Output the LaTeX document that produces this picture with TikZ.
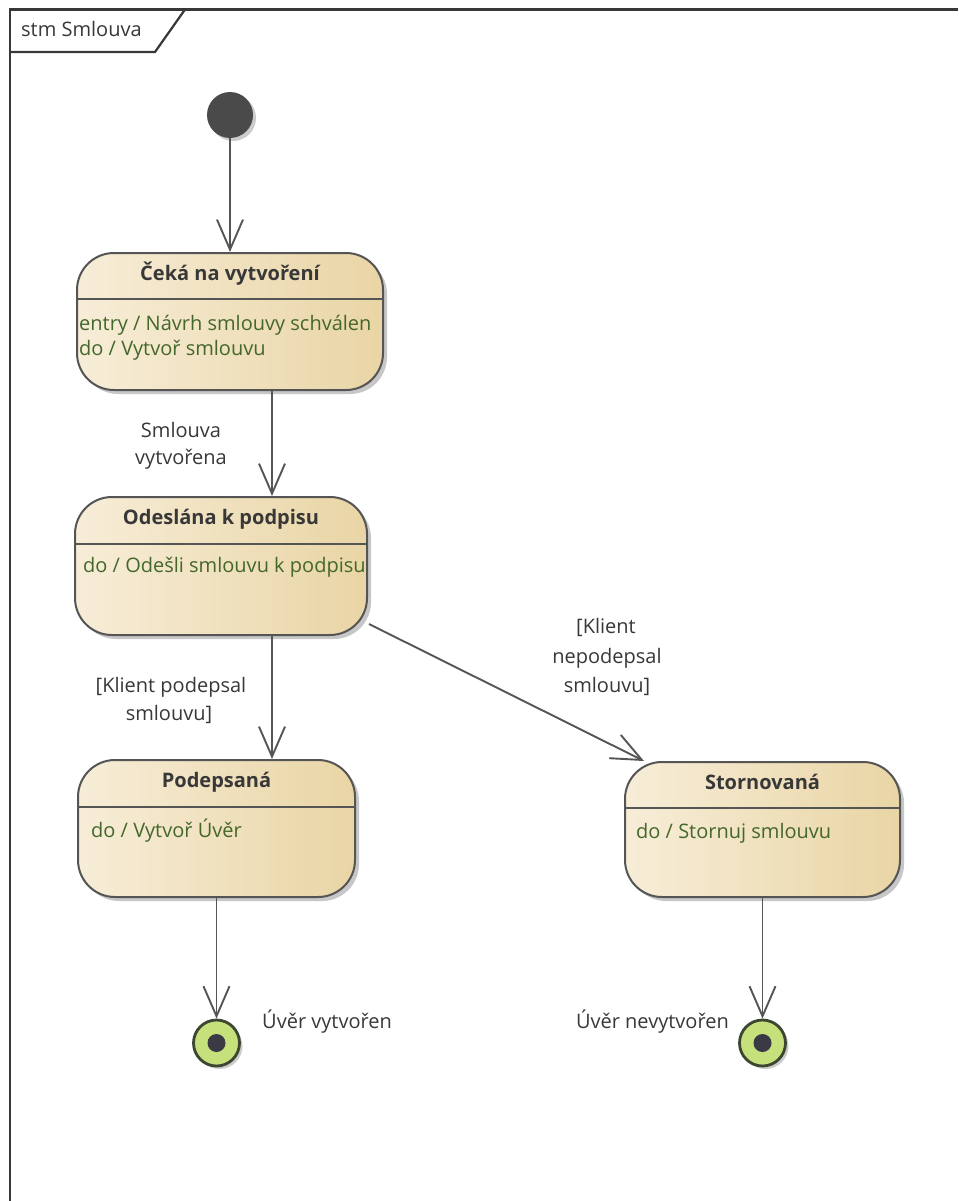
\documentclass[tikz,border=0pt]{standalone}
\usepackage{fontspec}
\setmainfont{Open Sans}
\usetikzlibrary{arrows.meta,shadows,calc}

\definecolor{stateL}{HTML}{F7EDD8}
\definecolor{stateR}{HTML}{E9D5A5}
\definecolor{edgegray}{HTML}{555555}
\definecolor{actgreen}{HTML}{44672A}
\definecolor{ink}{HTML}{383838}
\definecolor{finalfill}{HTML}{C6E07C}
\definecolor{finalring}{HTML}{3C4630}
\definecolor{corefill}{HTML}{3A3944}
\definecolor{initfill}{HTML}{4A4A4A}

\tikzset{
  stbox/.style={draw=edgegray, line width=2pt, rounded corners=37pt,
    left color=stateL, right color=stateR, inner sep=0pt,
    drop shadow={shadow xshift=4pt, shadow yshift=-4pt, opacity=0.22, fill=black}},
  stsep/.style={draw=edgegray, line width=1.7pt},
  sttitle/.style={font=\fontsize{20}{25}\selectfont\bfseries, text=ink, inner sep=0pt, anchor=base},
  stbody/.style={font=\fontsize{20}{25}\selectfont, text=actgreen, inner sep=0pt, anchor=base west},
  lbl/.style={font=\fontsize{20}{25}\selectfont, text=ink, inner sep=0pt, anchor=base},
  trans/.style={draw=edgegray, line width=1.9pt,
    -{Straight Barb[length=30pt, width=26pt, line width=1.9pt]}},
  initst/.style={circle, fill=initfill, minimum size=46pt, inner sep=0pt,
    drop shadow={shadow xshift=3pt, shadow yshift=-3pt, opacity=0.2, fill=black}},
  finalst/.style={circle, draw=finalring, line width=2.8pt, fill=finalfill,
    minimum size=46pt, inner sep=0pt,
    drop shadow={shadow xshift=3pt, shadow yshift=-3pt, opacity=0.2, fill=black}},
  finalcore/.style={circle, fill=corefill, minimum size=18pt, inner sep=0pt},
  framestyle/.style={draw=ink, line width=2.2pt},
}

\begin{document}
\begin{tikzpicture}[x=1pt, y=-1pt]
\useasboundingbox (0,0) rectangle (958,1201);
\fill[white] (0,0) rectangle (958,1201);

% diagram frame and its name tab
\draw[framestyle] (10,1201) -- (10,9.5) -- (958,9.5);
\draw[framestyle] (10,52) -- (155,52) -- (185,9.5);
\node[lbl, anchor=base west] (frametitle) at (21,37) {stm Smlouva};

% states
\node[initst] (init) at (230,115) {};

\node[stbox, minimum width=306pt, minimum height=137pt] (s1) at (230,321.5) {};
\draw[stsep] ($(s1.north west)+(0,47)$) -- ($(s1.north east)+(0,47)$);
\node[sttitle] (s1t) at ($(s1.north)+(0,28)$) {Čeká na vytvoření};
\node[stbody] (s1a) at ($(s1.north west)+(3,78)$) {entry / Návrh smlouvy schválen};
\node[stbody] (s1b) at ($(s1.north west)+(3,103)$) {do / Vytvoř smlouvu};

\node[stbox, minimum width=292pt, minimum height=138pt] (s2) at (221,566) {};
\draw[stsep] ($(s2.north west)+(0,48)$) -- ($(s2.north east)+(0,48)$);
\node[sttitle] (s2t) at ($(s2.north)+(0,28)$) {Odeslána k podpisu};
\node[stbody] (s2a) at ($(s2.north west)+(9,76)$) {do / Odešli smlouvu k podpisu};

\node[stbox, minimum width=277pt, minimum height=137pt] (s3) at (216.5,828.5) {};
\draw[stsep] ($(s3.north west)+(0,48)$) -- ($(s3.north east)+(0,48)$);
\node[sttitle] (s3t) at ($(s3.north)+(0,28)$) {Podepsaná};
\node[stbody] (s3a) at ($(s3.north west)+(14,78)$) {do / Vytvoř Úvěr};

\node[stbox, minimum width=275pt, minimum height=135pt] (s4) at (762.5,829.5) {};
\draw[stsep] ($(s4.north west)+(0,47)$) -- ($(s4.north east)+(0,47)$);
\node[sttitle] (s4t) at ($(s4.north)+(0,28)$) {Stornovaná};
\node[stbody] (s4a) at ($(s4.north west)+(12,77)$) {do / Stornuj smlouvu};

% final states
\node[finalst] (f1) at (216.5,1043) {};
\node[finalcore] (f1c) at (f1) {};
\node[finalst] (f2) at (762.5,1043) {};
\node[finalcore] (f2c) at (f2) {};

% transitions
\coordinate (trunk) at (272,0);
\draw[trans] (init) -- (s1.north);
\draw[trans] (s1.south -| trunk) -- (s2.north -| trunk);
\draw[trans] (s2.south -| trunk) -- (s3.north -| trunk);
\draw[trans] ($(s2.south east)+(1,-12)$) -- ($(s4.north west)+(20,0)$);
\draw[trans] (s3.south) -- (f1.north);
\draw[trans] (s4.south) -- (f2.north);

% transition labels
\node[lbl] (g1a) at (181,437) {Smlouva};
\node[lbl] (g1b) at (181,464) {vytvořena};
\node[lbl] (g2a) at (171,692) {[Klient podepsal};
\node[lbl] (g2b) at (169,720) {smlouvu]};
\node[lbl] (g3a) at (606,633) {[Klient};
\node[lbl] (g3b) at (607,663) {nepodepsal};
\node[lbl] (g3c) at (607,692) {smlouvu]};

% final state names
\node[lbl, anchor=base west] (f1n) at (262,1028) {Úvěr vytvořen};
\node[lbl, anchor=base east] (f2n) at (729,1028) {Úvěr nevytvořen};
\end{tikzpicture}
\end{document}
